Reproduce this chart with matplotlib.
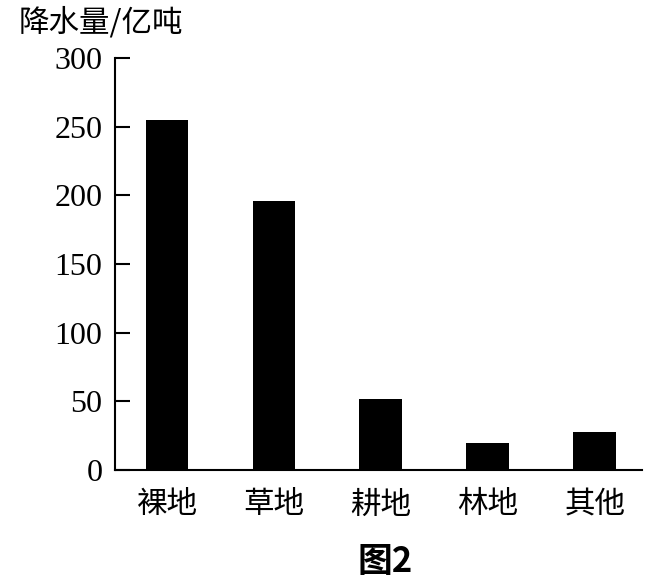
import matplotlib.pyplot as plt
import numpy as np

# 数据
categories = ['裸地', '草地', '耕地', '林地', '其他']
values = [255, 196, 52, 20, 28]
yticks = [0, 50, 100, 150, 200, 250, 300]

cjk = ['Noto Sans CJK SC', 'DejaVu Sans']
num = ['Liberation Serif', 'DejaVu Serif']

fig = plt.figure(figsize=(6.59, 5.88), dpi=100)
ax = fig.add_axes([0.1745, 0.2007, 0.7995, 0.7007])

x = np.arange(len(categories))
ax.bar(x, values, width=0.40, color='black')

ax.set_xlim(-0.486, len(categories) - 1 + 0.44)
ax.set_ylim(0, 300)

ax.spines['top'].set_visible(False)
ax.spines['right'].set_visible(False)
ax.spines['left'].set_linewidth(1.5)
ax.spines['bottom'].set_linewidth(1.5)

ax.set_yticks(yticks)
ax.set_yticklabels([str(v) for v in yticks], family=num, fontsize=23)
ax.tick_params(axis='y', direction='in', length=11, width=1.5, pad=9)

ax.set_xticks(x)
ax.set_xticklabels(categories, family=cjk, fontsize=22)
ax.tick_params(axis='x', length=0, pad=14)

fig.text(0.028, 0.962, '降水量/亿吨', family=cjk, fontsize=22, ha='left', va='center')
fig.text(0.585, 0.045, '图2', family=cjk, fontsize=25, fontweight='bold', ha='center', va='center')

fig.savefig('out.png', dpi=100)
